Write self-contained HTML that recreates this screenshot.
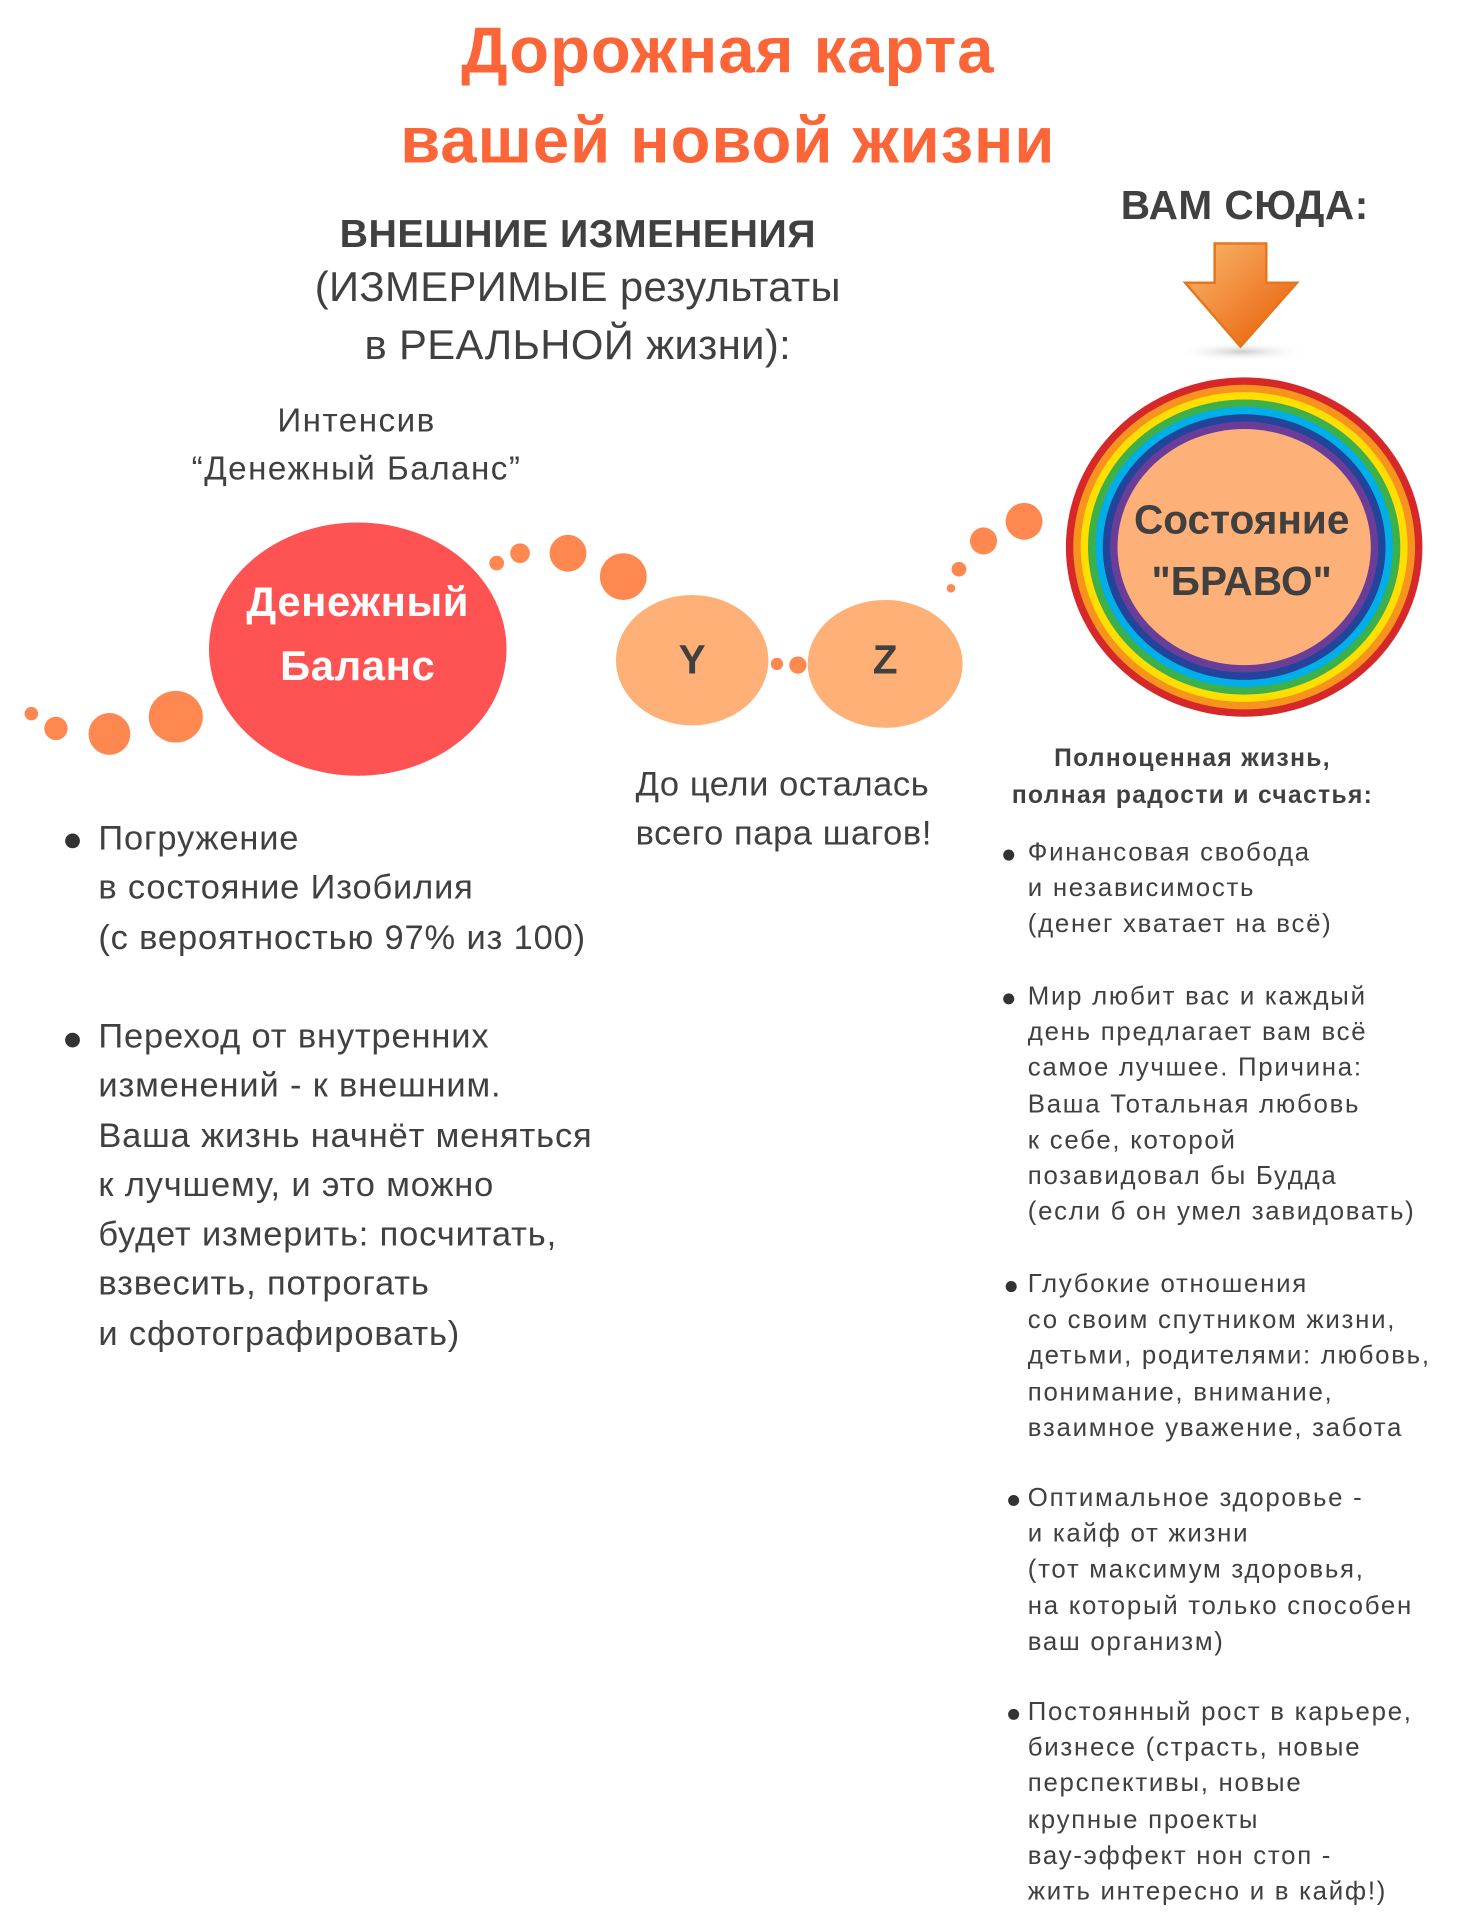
<!DOCTYPE html>
<html><head><meta charset="utf-8"><style>
html,body{margin:0;padding:0;background:#fff;width:1463px;height:1920px;overflow:hidden}
#w{position:absolute;left:0;top:0;width:1190px;height:1562px;transform:scale(1.2294);transform-origin:0 0;font-family:"Liberation Sans","DejaVu Sans",sans-serif;color:#404040}
.t{position:absolute;white-space:nowrap}
.c{text-align:center}
.e{position:absolute;border-radius:50%}
.d{position:absolute;border-radius:50%;background:#ff8850}
.bl{position:absolute;border-radius:50%;background:#333}
.r{font-size:21px;line-height:29.2px;letter-spacing:1.4px}
.l{font-size:28px;line-height:40.3px;letter-spacing:0.7px}
</style></head><body><div id="w">
<div class="t c" style="left:192px;width:800px;top:12px;font-size:53px;font-weight:bold;color:#fb6538;line-height:60px;letter-spacing:0.8px">Дорожная карта</div>
<div class="t c" style="left:192px;width:800px;top:85px;font-size:53px;font-weight:bold;color:#fb6538;line-height:60px;letter-spacing:0.8px">вашей новой жизни</div>
<div class="t c" style="left:170px;width:600px;top:171px;font-size:32px;font-weight:bold;line-height:38px;letter-spacing:0.4px">ВНЕШНИЕ ИЗМЕНЕНИЯ</div>
<div class="t c" style="left:170px;width:600px;top:214px;font-size:34px;line-height:40px;letter-spacing:0.3px">(ИЗМЕРИМЫЕ результаты</div>
<div class="t c" style="left:170px;width:600px;top:261px;font-size:34px;line-height:40px;letter-spacing:0.3px">в РЕАЛЬНОЙ жизни):</div>
<div class="t c" style="left:860px;width:305px;top:148px;font-size:33px;font-weight:bold;line-height:38px;letter-spacing:0.4px">ВАМ СЮДА:</div>
<svg style="position:absolute;left:950px;top:190px" width="120" height="110">
<defs><linearGradient id="g" x1="0" y1="0" x2="1" y2="1"><stop offset="0" stop-color="#f9b870"/><stop offset="1" stop-color="#e85a00"/></linearGradient>
<radialGradient id="s"><stop offset="0" stop-color="#ccc"/><stop offset="1" stop-color="#fff" stop-opacity="0"/></radialGradient></defs>
<ellipse cx="60" cy="96" rx="55" ry="8" fill="url(#s)"/>
<path d="M38 8 H80 V40 H105 L59 92 L14 40 H38 Z" fill="url(#g)" stroke="#e6751e" stroke-width="2"/>
</svg>
<svg style="position:absolute;left:860px;top:300px" width="300" height="290">
<ellipse cx="152" cy="145" rx="145" ry="138" fill="#d62828"/>
<ellipse cx="152" cy="145" rx="139" ry="132" fill="#f7941d"/>
<ellipse cx="152" cy="145" rx="133" ry="126" fill="#ffde00"/>
<ellipse cx="152" cy="145" rx="127" ry="120" fill="#3db04a"/>
<ellipse cx="152" cy="145" rx="121" ry="114" fill="#00aee8"/>
<ellipse cx="152" cy="145" rx="115" ry="108" fill="#22449a"/>
<ellipse cx="152" cy="145" rx="109" ry="102" fill="#6a3d99"/>
<ellipse cx="152" cy="145" rx="103" ry="96" fill="#fdb077"/>
</svg>
<div class="t c" style="left:890px;width:240px;top:402px;font-size:33px;font-weight:bold;line-height:42px">Состояние</div>
<div class="t c" style="left:890px;width:240px;top:452px;font-size:33px;font-weight:bold;line-height:42px">"БРАВО"</div>
<div class="t c" style="left:90px;width:400px;top:326px;font-size:27px;line-height:32px;letter-spacing:1.2px">Интенсив</div>
<div class="t c" style="left:90px;width:400px;top:365px;font-size:27px;line-height:32px;letter-spacing:1.2px">“Денежный Баланс”</div>
<div class="e" style="left:170px;top:425px;width:242px;height:206px;background:#ff5252"></div>
<div class="t c" style="left:140px;width:302px;top:470px;font-size:34px;font-weight:bold;color:#fff;line-height:40px;letter-spacing:0.5px">Денежный</div>
<div class="t c" style="left:140px;width:302px;top:522px;font-size:34px;font-weight:bold;color:#fff;line-height:40px;letter-spacing:0.5px">Баланс</div>
<div class="d" style="left:20px;top:575px;width:11px;height:11px"></div>
<div class="d" style="left:36px;top:583px;width:19px;height:19px"></div>
<div class="d" style="left:72px;top:580px;width:34px;height:34px"></div>
<div class="d" style="left:121px;top:562px;width:44px;height:42px"></div>
<div class="d" style="left:398px;top:452px;width:12px;height:12px"></div>
<div class="d" style="left:415px;top:442px;width:16px;height:16px"></div>
<div class="d" style="left:447px;top:435px;width:30px;height:30px"></div>
<div class="d" style="left:488px;top:450px;width:38px;height:38px"></div>
<div class="e" style="left:501px;top:484px;width:124px;height:106px;background:#ffb077"></div>
<div class="t c" style="left:501px;width:124px;top:517px;font-size:33px;font-weight:bold;line-height:40px">Y</div>
<div class="d" style="left:627px;top:535px;width:10px;height:10px"></div>
<div class="d" style="left:642px;top:534px;width:14px;height:14px"></div>
<div class="e" style="left:657px;top:488px;width:126px;height:104px;background:#ffb077"></div>
<div class="t c" style="left:657px;width:126px;top:517px;font-size:33px;font-weight:bold;line-height:40px">Z</div>
<div class="d" style="left:770px;top:475px;width:7px;height:7px"></div>
<div class="d" style="left:774px;top:457px;width:12px;height:12px"></div>
<div class="d" style="left:789px;top:429px;width:22px;height:22px"></div>
<div class="d" style="left:818px;top:409px;width:30px;height:30px"></div>
<div class="t" style="left:517px;top:618px;font-size:28px;line-height:40px;letter-spacing:0.5px">До цели осталась<br>всего пара шагов!</div>
<div class="t c" style="left:780px;width:380px;top:602px;font-size:20px;font-weight:bold;line-height:30px;letter-spacing:1.1px">Полноценная жизнь,<br>полная радости и счастья:</div>
<div class="bl" style="left:53px;top:678px;width:12px;height:12px"></div>
<div class="t l" style="left:80px;top:662px">Погружение<br>в состояние Изобилия<br>(с вероятностью 97% из 100)</div>
<div class="bl" style="left:53px;top:840px;width:12px;height:12px"></div>
<div class="t l" style="left:80px;top:823px">Переход от внутренних<br>изменений - к внешним.<br>Ваша жизнь начнёт меняться<br>к лучшему, и это можно<br>будет измерить: посчитать,<br>взвесить, потрогать<br>и сфотографировать)</div>
<div class="bl" style="left:816px;top:691px;width:9px;height:9px"></div>
<div class="t r" style="left:836px;top:679px">Финансовая свобода<br>и независимость<br>(денег хватает на всё)</div>
<div class="bl" style="left:816px;top:808px;width:9px;height:9px"></div>
<div class="t r" style="left:836px;top:796px">Мир любит вас и каждый<br>день предлагает вам всё<br>самое лучшее. Причина:<br>Ваша Тотальная любовь<br>к себе, которой<br>позавидовал бы Будда<br>(если б он умел завидовать)</div>
<div class="bl" style="left:818px;top:1042px;width:9px;height:9px"></div>
<div class="t r" style="left:836px;top:1030px">Глубокие отношения<br>со своим спутником жизни,<br>детьми, родителями: любовь,<br>понимание, внимание,<br>взаимное уважение, забота</div>
<div class="bl" style="left:820px;top:1216px;width:9px;height:9px"></div>
<div class="t r" style="left:836px;top:1204px">Оптимальное здоровье -<br>и кайф от жизни<br>(тот максимум здоровья,<br>на который только способен<br>ваш организм)</div>
<div class="bl" style="left:820px;top:1390px;width:9px;height:9px"></div>
<div class="t r" style="left:836px;top:1378px">Постоянный рост в карьере,<br>бизнесе (страсть, новые<br>перспективы, новые<br>крупные проекты<br>вау-эффект нон стоп -<br>жить интересно и в кайф!)</div>
</div></body></html>
